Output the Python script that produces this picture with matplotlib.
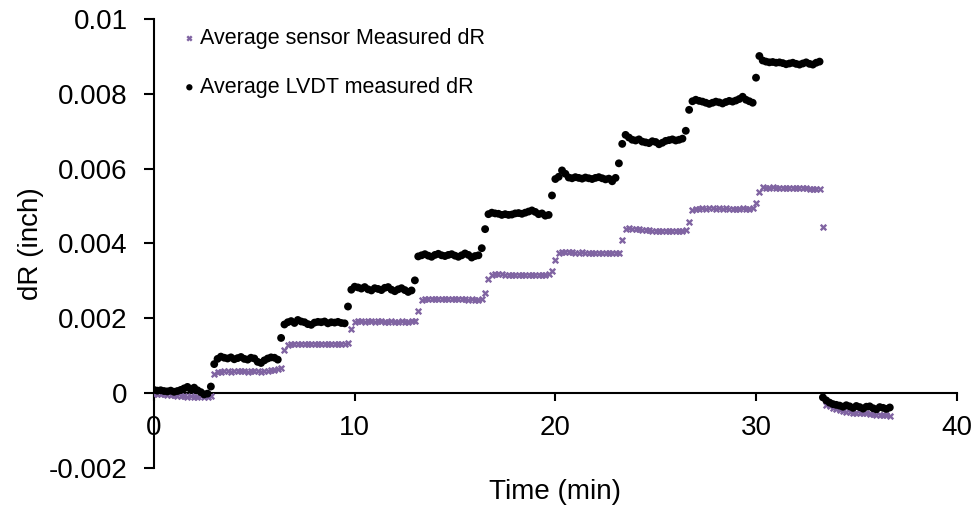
import matplotlib
matplotlib.use("Agg")
import matplotlib.pyplot as plt
from matplotlib.ticker import FuncFormatter

plt.rcParams["font.family"] = ["Liberation Sans", "DejaVu Sans"]
plt.rcParams["axes.unicode_minus"] = False

# Sample times in seconds (one reading every 10 s).
time_s = [
    0, 10, 20, 30, 40, 50, 60, 70, 80, 90, 100, 110, 120, 130, 140, 150, 160, 170, 180, 190,
    200, 210, 220, 230, 240, 250, 260, 270, 280, 290, 300, 310, 320, 330, 340, 350, 360, 370, 380, 390,
    400, 410, 420, 430, 440, 450, 460, 470, 480, 490, 500, 510, 520, 530, 540, 550, 560, 570, 580, 590,
    600, 610, 620, 630, 640, 650, 660, 670, 680, 690, 700, 710, 720, 730, 740, 750, 760, 770, 780, 790,
    800, 810, 820, 830, 840, 850, 860, 870, 880, 890, 900, 910, 920, 930, 940, 950, 960, 970, 980, 990,
    1000, 1010, 1020, 1030, 1040, 1050, 1060, 1070, 1080, 1090, 1100, 1110, 1120, 1130, 1140, 1150, 1160, 1170, 1180, 1190,
    1200, 1210, 1220, 1230, 1240, 1250, 1260, 1270, 1280, 1290, 1300, 1310, 1320, 1330, 1340, 1350, 1360, 1370, 1380, 1390,
    1400, 1410, 1420, 1430, 1440, 1450, 1460, 1470, 1480, 1490, 1500, 1510, 1520, 1530, 1540, 1550, 1560, 1570, 1580, 1590,
    1600, 1610, 1620, 1630, 1640, 1650, 1660, 1670, 1680, 1690, 1700, 1710, 1720, 1730, 1740, 1750, 1760, 1770, 1780, 1790,
    1800, 1810, 1820, 1830, 1840, 1850, 1860, 1870, 1880, 1890, 1900, 1910, 1920, 1930, 1940, 1950, 1960, 1970, 1980, 1990,
    2000, 2010, 2020, 2030, 2040, 2050, 2060, 2070, 2080, 2090, 2100, 2110, 2120, 2130, 2140, 2150, 2160, 2170, 2180, 2190,
    2200,
]

# Average sensor measured dR (inch)
sensor_dr = [
    # baseline
    -0.00003, -0.00002, -0.00004, -0.00003, -0.00005, -0.00006, -0.00005, -0.00007, -0.00009,
    -0.00008, -0.00010, -0.00009, -0.00011, -0.00010, -0.00009, -0.00011, -0.00010, -0.00008,
    # step 1
    0.00050, 0.00055, 0.00057, 0.00058, 0.00058, 0.00057, 0.00058, 0.00059, 0.00058, 0.00058,
    0.00057, 0.00058, 0.00059, 0.00058, 0.00057, 0.00058, 0.00059, 0.00060, 0.00062, 0.00063,
    0.00066, 0.00116,
    # step 2
    0.00129, 0.00131, 0.00132, 0.00132, 0.00131, 0.00132, 0.00131, 0.00131, 0.00130, 0.00131,
    0.00132, 0.00131, 0.00130, 0.00131, 0.00131, 0.00130, 0.00130, 0.00132, 0.00134,
    0.00171,
    # step 3
    0.00189, 0.00191, 0.00191, 0.00190, 0.00191, 0.00191, 0.00190, 0.00191, 0.00191, 0.00190,
    0.00190, 0.00191, 0.00190, 0.00190, 0.00191, 0.00190, 0.00190, 0.00191, 0.00193,
    0.00219,
    # step 4
    0.00248, 0.00251, 0.00252, 0.00252, 0.00251, 0.00252, 0.00251, 0.00251, 0.00252, 0.00251,
    0.00250, 0.00251, 0.00250, 0.00250, 0.00249, 0.00250, 0.00249, 0.00249, 0.00250,
    0.00268, 0.00304,
    # step 5
    0.00314, 0.00317, 0.00318, 0.00317, 0.00316, 0.00316, 0.00315, 0.00316, 0.00316, 0.00315,
    0.00315, 0.00316, 0.00315, 0.00315, 0.00316, 0.00315, 0.00315, 0.00318,
    0.00325, 0.00356,
    # step 6
    0.00374, 0.00377, 0.00376, 0.00377, 0.00376, 0.00375, 0.00375, 0.00376, 0.00375, 0.00374,
    0.00374, 0.00375, 0.00374, 0.00374, 0.00373, 0.00374, 0.00373, 0.00373, 0.00375,
    0.00410,
    # step 7
    0.00439, 0.00440, 0.00439, 0.00438, 0.00437, 0.00436, 0.00436, 0.00435, 0.00434, 0.00434,
    0.00433, 0.00433, 0.00432, 0.00433, 0.00432, 0.00432, 0.00433, 0.00434, 0.00436,
    0.00456,
    # step 8
    0.00490, 0.00492, 0.00493, 0.00494, 0.00493, 0.00494, 0.00494, 0.00493, 0.00494, 0.00493,
    0.00494, 0.00493, 0.00492, 0.00493, 0.00493, 0.00494, 0.00493, 0.00493, 0.00495,
    0.00509, 0.00537,
    # step 9
    0.00550, 0.00549, 0.00549, 0.00550, 0.00549, 0.00549, 0.00549, 0.00549, 0.00549, 0.00549,
    0.00548, 0.00548, 0.00549, 0.00548, 0.00546, 0.00545, 0.00544, 0.00544,
    0.00445,
    # unload
    -0.00032, -0.00036, -0.00040, -0.00043, -0.00046, -0.00048, -0.00050, -0.00052, -0.00053, -0.00053,
    -0.00054, -0.00055, -0.00055, -0.00056, -0.00057, -0.00058, -0.00058, -0.00059, -0.00060, -0.00061,
]

# Average LVDT measured dR (inch)
lvdt_dr = [
    # baseline
    0.00008, 0.00006, 0.00007, 0.00005, 0.00004, 0.00006, 0.00003, 0.00005, 0.00008,
    0.00012, 0.00016, 0.00009, 0.00014, 0.00007, 0.00002, -0.00004, -0.00002,
    0.00017,
    # step 1
    0.00077, 0.00091, 0.00097, 0.00094, 0.00092, 0.00095, 0.00090, 0.00093, 0.00096, 0.00091,
    0.00089, 0.00094, 0.00092, 0.00083, 0.00080, 0.00087, 0.00092, 0.00095, 0.00094, 0.00089,
    0.00147,
    # step 2
    0.00183, 0.00189, 0.00192, 0.00187, 0.00195, 0.00191, 0.00189, 0.00184, 0.00182, 0.00188,
    0.00190, 0.00189, 0.00191, 0.00186, 0.00189, 0.00188, 0.00190, 0.00187, 0.00186,
    0.00231,
    # step 3
    0.00276, 0.00284, 0.00282, 0.00279, 0.00283, 0.00277, 0.00274, 0.00280, 0.00278, 0.00275,
    0.00281, 0.00283, 0.00276, 0.00272, 0.00277, 0.00280, 0.00275, 0.00270, 0.00274,
    0.00301,
    # step 4
    0.00365, 0.00368, 0.00371, 0.00367, 0.00364, 0.00369, 0.00372, 0.00368, 0.00366, 0.00369,
    0.00371, 0.00367, 0.00364, 0.00368, 0.00373, 0.00369, 0.00362, 0.00366, 0.00368,
    0.00387, 0.00438,
    # step 5
    0.00478, 0.00482, 0.00480, 0.00479, 0.00476, 0.00478, 0.00476, 0.00477, 0.00480, 0.00481,
    0.00479, 0.00482, 0.00485, 0.00488, 0.00484, 0.00478, 0.00480, 0.00474, 0.00476,
    0.00528,
    # step 6
    0.00572, 0.00578, 0.00595, 0.00586, 0.00576, 0.00574, 0.00577, 0.00575, 0.00573, 0.00576,
    0.00574, 0.00572, 0.00575, 0.00577, 0.00574, 0.00571, 0.00573, 0.00566, 0.00575,
    0.00614,
    # step 7
    0.00666, 0.00690, 0.00683, 0.00677, 0.00675, 0.00678, 0.00672, 0.00670, 0.00668, 0.00673,
    0.00671, 0.00665, 0.00669, 0.00674, 0.00676, 0.00678, 0.00675, 0.00677, 0.00680,
    0.00701, 0.00757,
    # step 8
    0.00780, 0.00784, 0.00781, 0.00779, 0.00776, 0.00773, 0.00776, 0.00779, 0.00777, 0.00774,
    0.00778, 0.00781, 0.00779, 0.00782, 0.00786, 0.00792, 0.00784, 0.00780, 0.00776,
    0.00843,
    # step 9
    0.00901, 0.00889, 0.00886, 0.00884, 0.00885, 0.00883, 0.00884, 0.00882, 0.00879, 0.00881,
    0.00883, 0.00880, 0.00878, 0.00881, 0.00884, 0.00880, 0.00878, 0.00883, 0.00886,
    # unload
    -0.00012, -0.00020, -0.00026, -0.00030, -0.00032, -0.00034, -0.00037, -0.00033, -0.00036, -0.00040,
    -0.00035, -0.00038, -0.00042, -0.00037, -0.00036, -0.00041, -0.00044, -0.00038, -0.00040, -0.00043,
    -0.00039,
]

x_ticks = [0, 10, 20, 30, 40]
y_ticks = [-0.002, 0, 0.002, 0.004, 0.006, 0.008, 0.01]

time_min = [s / 60 for s in time_s]

fig = plt.figure(figsize=(9.76, 5.05), dpi=100)
ax = fig.add_axes([0.1578, 0.0739, 0.8224, 0.8885])

ax.scatter(time_min, sensor_dr, marker="x", s=16, linewidths=1.7, color="#8064A2",
           label="Average sensor Measured dR", zorder=3)
ax.scatter(time_min, lvdt_dr, marker="o", s=32, color="black", edgecolors="none",
           label="Average LVDT measured dR", zorder=4)

ax.set_xlim(0, 40)
ax.set_ylim(-0.002, 0.01)
ax.set_xticks(x_ticks)
ax.set_yticks(y_ticks)
ax.yaxis.set_major_formatter(FuncFormatter(lambda v, p: "%g" % round(v, 4)))

ax.spines["top"].set_visible(False)
ax.spines["right"].set_visible(False)
ax.spines["bottom"].set_position(("data", 0))
ax.spines["bottom"].set_linewidth(1.5)
ax.spines["left"].set_linewidth(1.5)

ax.tick_params(axis="x", direction="out", length=6, width=1.5, pad=10, labelsize=20)
ax.tick_params(axis="y", direction="out", length=7, width=1.5, pad=12, labelsize=20)

ax.set_xlabel("Time (min)", fontsize=20)
ax.set_ylabel("dR (inch)", fontsize=20)
ax.xaxis.set_label_coords(0.5, -0.025)
ax.yaxis.set_label_coords(-0.137, 0.5)

ax.legend(loc="upper left", bbox_to_anchor=(0.036, 0.98), frameon=False,
          fontsize=15.5, handlelength=0.6, handletextpad=0.2, labelspacing=1.3,
          borderpad=0, borderaxespad=0, scatterpoints=1, markerscale=0.8)

fig.savefig("out.png", dpi=100)
